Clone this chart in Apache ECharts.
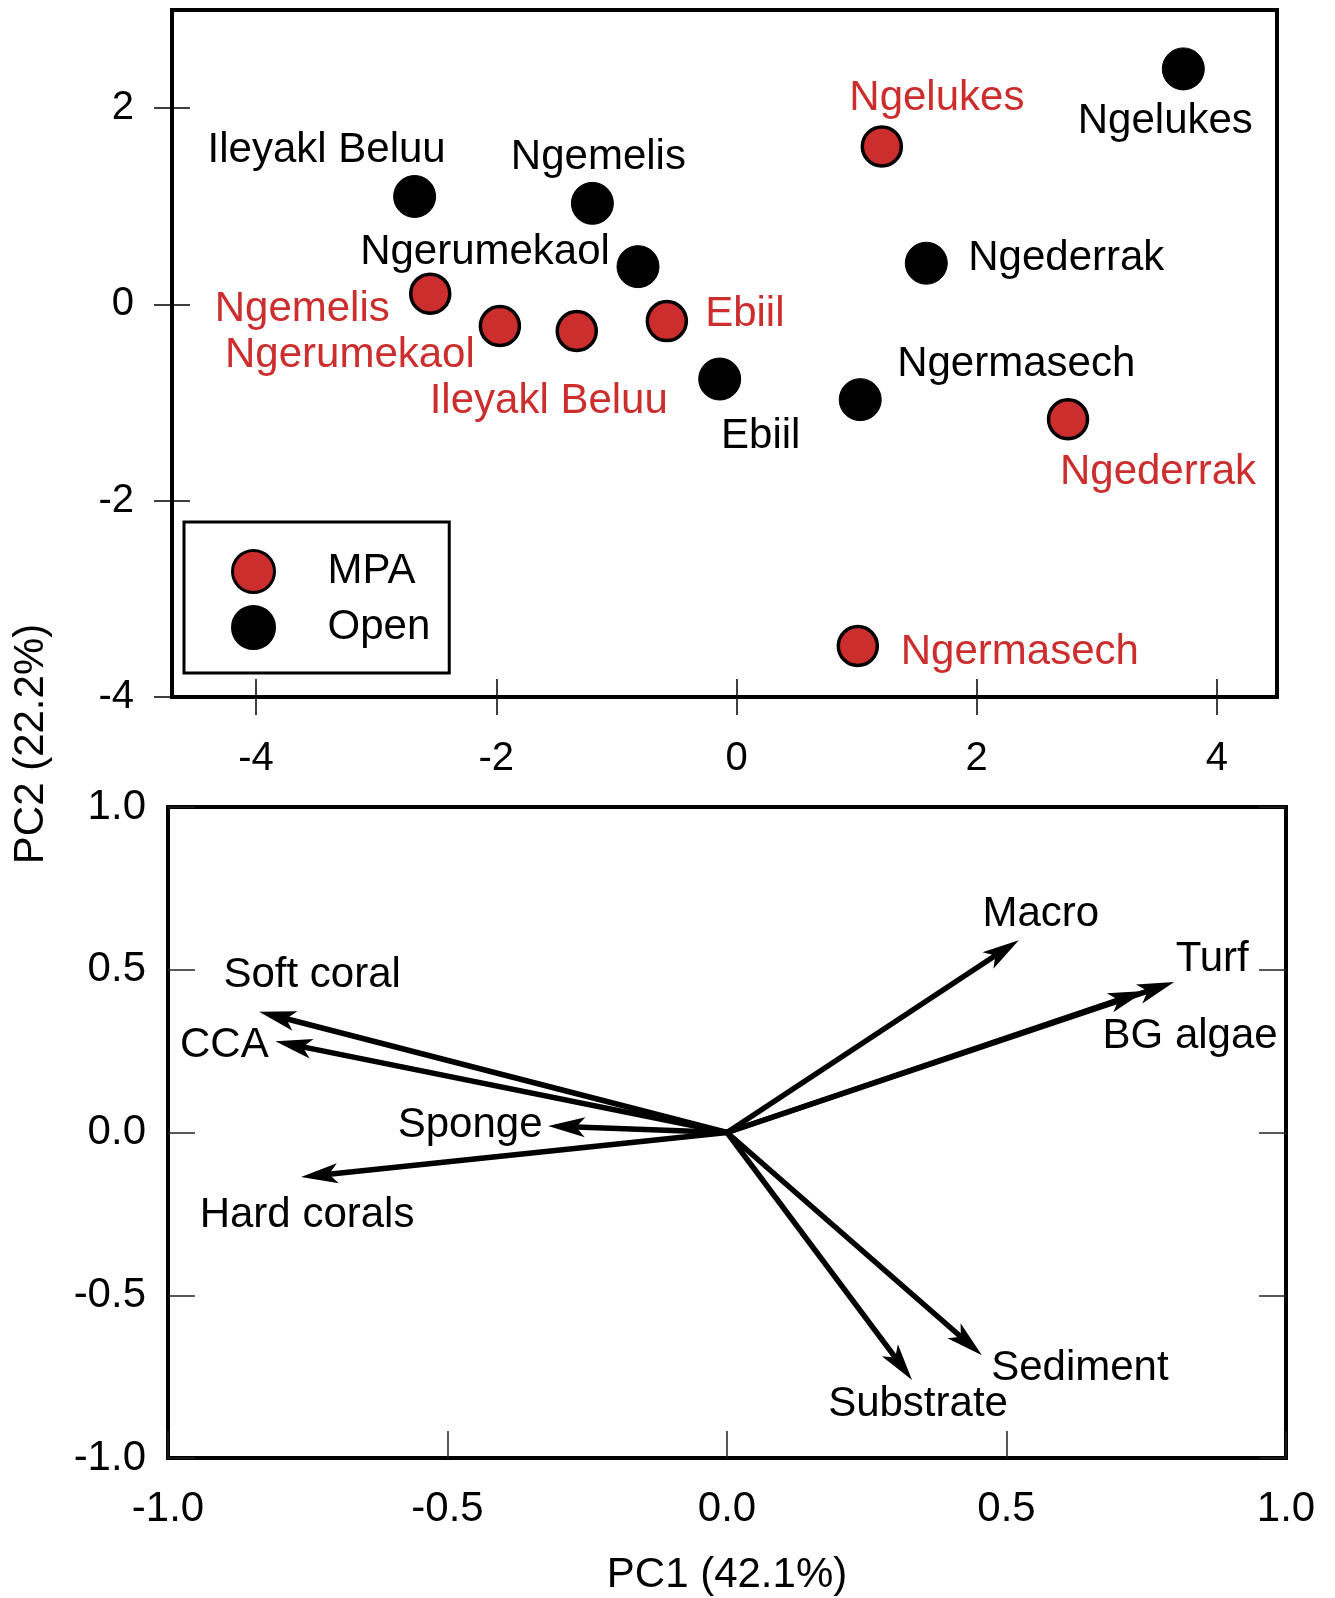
<!DOCTYPE html>
<html>
<head>
<meta charset="utf-8">
<title>PCA biplot</title>
<script src="https://cdn.jsdelivr.net/npm/echarts@6/dist/echarts.min.js"></script>
<style>
  html, body { margin: 0; padding: 0; background: #fff; }
  #chart { width: 1335px; height: 1598px; }
</style>
</head>
<body>
<div id="chart"></div>
<script>
// site scores (top panel)
const mpaSites = ['Ngelukes', 'Ngemelis', 'Ngerumekaol', 'Ileyakl Beluu', 'Ebiil', 'Ngederrak', 'Ngermasech'];
const mpaPC1 = [1.21, -2.55, -1.97, -1.33, -0.58, 2.76, 1.01];
const mpaPC2 = [1.61, 0.11, -0.22, -0.27, -0.17, -1.17, -3.48];

const openSites = ['Ngelukes', 'Ileyakl Beluu', 'Ngemelis', 'Ngerumekaol', 'Ngederrak', 'Ebiil', 'Ngermasech'];
const openPC1 = [3.72, -2.68, -1.20, -0.82, 1.58, -0.14, 1.03];
const openPC2 = [2.40, 1.10, 1.03, 0.385, 0.42, -0.76, -0.97];

// variable loadings (bottom panel)
const varNames = ['Soft coral', 'CCA', 'Sponge', 'Hard corals', 'Macro', 'Turf', 'BG algae', 'Sediment', 'Substrate'];
const varPC1 = [-0.837, -0.808, -0.320, -0.762, 0.522, 0.800, 0.748, 0.456, 0.331];
const varPC2 = [0.371, 0.280, 0.020, -0.137, 0.591, 0.462, 0.435, -0.684, -0.760];

// tick labels
const topXTicks = [-4, -2, 0, 2, 4];
const topYTicks = [-4, -2, 0, 2];

// label placement (pixel offsets from the mark)
const mpaLabelOffsets = [[55, -48], [-128, 16], [-150, 29], [-28, 70], [78, -7], [90, 53], [162, 6]];
const openLabelOffsets = [[-18, 53], [-88, -46], [6, -46], [-153, -14], [140, -5], [41, 57], [156, -35]];
const varLabelOffsets = [[53, -36], [-51, 4], [-78, -1], [6, 38], [22, -26], [38, -23], [45, 46], [98, 13], [6, 25]];

const FONT = '"Liberation Sans", Arial, sans-serif';
const RED = '#cc2d2d';

const chart = echarts.init(document.getElementById('chart'), null, { renderer: 'canvas' });

const siteData = (names, xs, ys, offsets) => names.map((n, i) => ({
  name: n,
  value: [xs[i], ys[i]],
  label: { offset: offsets[i] }
}));

const arrowData = varNames.map((n, i) => [varPC1[i], varPC2[i], i]);

const renderArrow = (params, api) => {
  const i = api.value(2);
  const o = api.coord([0, 0]);
  const tip = api.coord([api.value(0), api.value(1)]);
  const dx = tip[0] - o[0];
  const dy = tip[1] - o[1];
  const len = Math.hypot(dx, dy);
  const ux = dx / len, uy = dy / len;
  const px = -uy, py = ux;
  const L = 37, W = 10, N = 28;
  const bx = tip[0] - ux * L, by = tip[1] - uy * L;
  const nx = tip[0] - ux * N, ny = tip[1] - uy * N;
  const off = varLabelOffsets[i];
  return {
    type: 'group',
    children: [
      {
        type: 'line',
        shape: { x1: o[0], y1: o[1], x2: nx, y2: ny },
        style: { stroke: '#000', lineWidth: 5.5 }
      },
      {
        type: 'polygon',
        shape: { points: [tip, [bx + px * W, by + py * W], [nx, ny], [bx - px * W, by - py * W]] },
        style: { fill: '#000' }
      },
      {
        type: 'text',
        style: {
          text: varNames[i],
          x: tip[0] + off[0],
          y: tip[1] + off[1],
          align: 'center',
          verticalAlign: 'middle',
          font: '42px ' + FONT,
          fill: '#000'
        }
      }
    ]
  };
};

const tickStyle = { color: '#000', width: 1.5 };
const noLine = { show: false, onZero: false };

const option = {
  animation: false,
  backgroundColor: '#fff',
  textStyle: { fontFamily: FONT },
  grid: [
    { left: 172, top: 10, width: 1105, height: 687, show: true, borderColor: '#000', borderWidth: 4 },
    { left: 168, top: 807, width: 1118, height: 651, show: true, borderColor: '#000', borderWidth: 4 }
  ],
  legend: {
    data: ['MPA', 'Open'],
    orient: 'vertical',
    left: 184,
    top: 522,
    padding: [27, 19, 23, 47],
    itemWidth: 42,
    itemHeight: 42,
    itemGap: 11,
    borderColor: '#000',
    borderWidth: 3,
    selectedMode: false,
    icon: 'circle',
    itemStyle: { borderColor: '#000', borderWidth: 3 },
    textStyle: { fontSize: 42, color: '#000', fontFamily: FONT, padding: [0, 0, 0, 48] }
  },
  xAxis: [
    {
      gridIndex: 0, type: 'value', min: -4.7, max: 4.5, position: 'bottom',
      axisLine: noLine, splitLine: { show: false },
      axisTick: { show: true, inside: false, length: 18, lineStyle: tickStyle, customValues: topXTicks },
      axisLabel: { customValues: topXTicks, fontSize: 40, margin: 42, color: '#000', fontFamily: FONT }
    },
    {
      gridIndex: 0, type: 'value', min: -4.7, max: 4.5, position: 'bottom',
      axisLine: noLine, splitLine: { show: false },
      axisTick: { show: true, inside: true, length: 18, lineStyle: tickStyle, customValues: topXTicks },
      axisLabel: { show: false }
    },
    {
      gridIndex: 1, type: 'value', min: -1, max: 1, interval: 0.5, position: 'bottom',
      axisLine: noLine, splitLine: { show: false },
      axisTick: { show: true, inside: true, length: 27, lineStyle: { color: '#222', width: 1.5 } },
      axisLabel: { fontSize: 42, margin: 30, color: '#000', fontFamily: FONT, formatter: v => v.toFixed(1) },
      name: 'PC1 (42.1%)', nameLocation: 'middle', nameGap: 96,
      nameTextStyle: { fontSize: 42, color: '#000', fontFamily: FONT }
    }
  ],
  yAxis: [
    {
      gridIndex: 0, type: 'value', min: -4, max: 3, position: 'left',
      axisLine: noLine, splitLine: { show: false },
      axisTick: { show: true, inside: false, length: 18, lineStyle: tickStyle, customValues: topYTicks },
      axisLabel: { customValues: topYTicks, fontSize: 40, margin: 38, color: '#000', fontFamily: FONT }
    },
    {
      gridIndex: 0, type: 'value', min: -4, max: 3, position: 'left',
      axisLine: noLine, splitLine: { show: false },
      axisTick: { show: true, inside: true, length: 18, lineStyle: tickStyle, customValues: topYTicks },
      axisLabel: { show: false }
    },
    {
      gridIndex: 1, type: 'value', min: -1, max: 1, interval: 0.5, position: 'left',
      axisLine: noLine, splitLine: { show: false },
      axisTick: { show: true, inside: true, length: 27, lineStyle: { color: '#222', width: 1.5 } },
      axisLabel: { fontSize: 42, margin: 22, color: '#000', fontFamily: FONT, formatter: v => v.toFixed(1) }
    },
    {
      gridIndex: 1, type: 'value', min: -1, max: 1, interval: 0.5, position: 'right',
      axisLine: noLine, splitLine: { show: false },
      axisTick: { show: true, inside: true, length: 27, lineStyle: { color: '#222', width: 1.5 } },
      axisLabel: { show: false }
    }
  ],
  graphic: [
    {
      type: 'text',
      x: 31,
      y: 744,
      rotation: Math.PI / 2,
      style: {
        text: 'PC2 (22.2%)',
        align: 'center',
        verticalAlign: 'middle',
        font: '42px ' + FONT,
        fill: '#000'
      }
    }
  ],
  series: [
    {
      name: 'MPA',
      type: 'scatter',
      xAxisIndex: 0,
      yAxisIndex: 0,
      symbol: 'circle',
      symbolSize: 39,
      itemStyle: { color: RED, borderColor: '#000', borderWidth: 3.5, opacity: 1 },
      label: { show: true, position: 'inside', formatter: '{b}', color: RED, fontSize: 42, fontFamily: FONT },
      emphasis: { disabled: true },
      data: siteData(mpaSites, mpaPC1, mpaPC2, mpaLabelOffsets)
    },
    {
      name: 'Open',
      type: 'scatter',
      xAxisIndex: 0,
      yAxisIndex: 0,
      symbol: 'circle',
      symbolSize: 42,
      itemStyle: { color: '#000', borderColor: '#000', borderWidth: 1, opacity: 1 },
      label: { show: true, position: 'inside', formatter: '{b}', color: '#000', fontSize: 42, fontFamily: FONT },
      emphasis: { disabled: true },
      data: siteData(openSites, openPC1, openPC2, openLabelOffsets)
    },
    {
      name: 'loadings',
      type: 'custom',
      xAxisIndex: 2,
      yAxisIndex: 2,
      renderItem: renderArrow,
      clip: false,
      data: arrowData
    }
  ]
};

chart.setOption(option);
</script>
</body>
</html>
